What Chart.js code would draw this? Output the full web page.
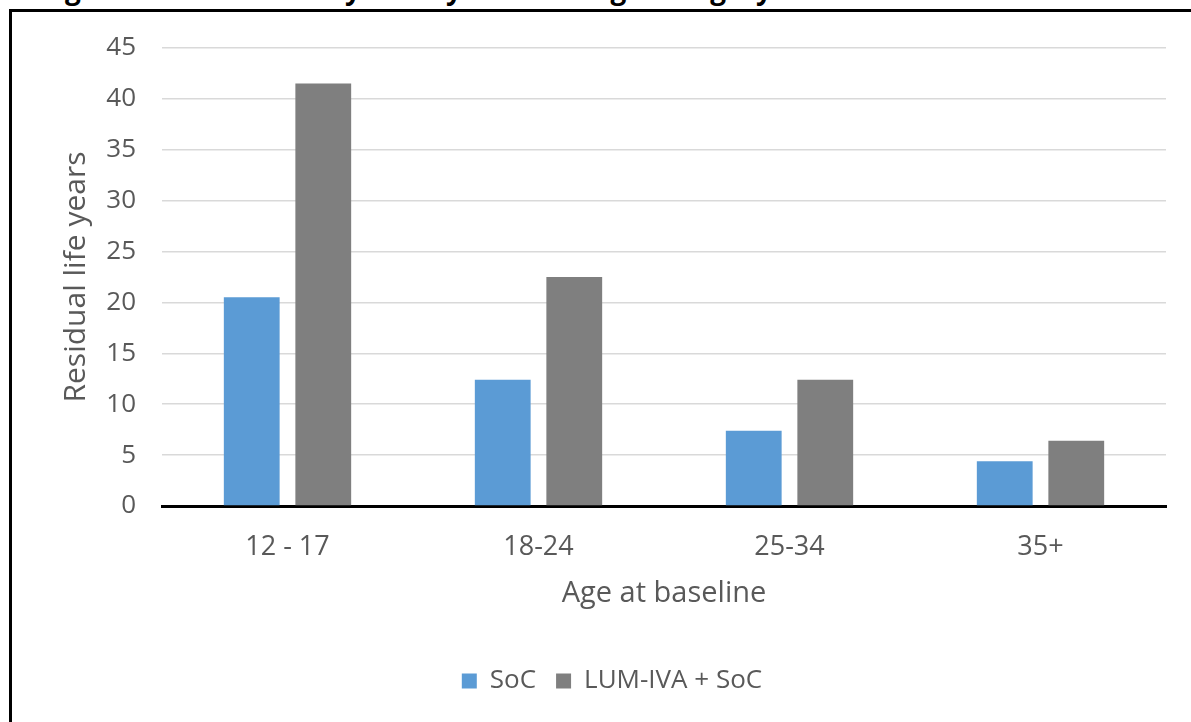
<!DOCTYPE html>
<html>
<head>
<meta charset="utf-8">
<script src="https://cdn.jsdelivr.net/npm/chart.js@4"></script>
<style>
    html, body { margin: 0; padding: 0; background: #fff; overflow: hidden; width: 1191px; height: 722px; }
    #title { position: absolute; left: 41px; top: -28px; font: bold 28px "Open Sans", sans-serif; line-height: 32px; white-space: nowrap; color: #000; }
    #frame { position: absolute; left: 9px; top: 9px; width: 1300px; height: 800px; border: 3px solid #000; }
    #wrap { position: absolute; left: 12px; top: 12px; width: 1202px; height: 710px; }
</style>
</head>
<body>
<div id="title">Figure 3: Residual life years by baseline age category</div>
<div id="frame"></div>
<div id="wrap"><canvas id="chart"></canvas></div>
<script>
// Residual life years by age at baseline
const categories = ['12 - 17', '18-24', '25-34', '35+'];
const socValues = [20.5, 12.4, 7.4, 4.4];
const lumIvaValues = [41.5, 22.5, 12.4, 6.4];
const yTicks = [0, 5, 10, 15, 20, 25, 30, 35, 40, 45];

const font = '"Open Sans", sans-serif';
const textGrey = '#595959';

const ctx = document.getElementById('chart');
new Chart(ctx, {
    type: 'bar',
    data: {
        labels: categories,
        datasets: [{
            label: 'SoC',
            data: socValues,
            backgroundColor: '#5B9BD5',
            categoryPercentage: 0.57,
            barPercentage: 0.78
        }, {
            label: 'LUM-IVA + SoC',
            data: lumIvaValues,
            backgroundColor: '#7F7F7F',
            categoryPercentage: 0.57,
            barPercentage: 0.78
        }]
    },
    options: {
        responsive: true,
        maintainAspectRatio: false,
        animation: false,
        layout: {
            padding: { top: 36, right: 48, bottom: 18, left: 46 }
        },
        plugins: {
            tooltip: { enabled: false },
            legend: {
                position: 'bottom',
                labels: {
                    color: textGrey,
                    font: { family: font, size: 26 },
                    boxWidth: 15,
                    boxHeight: 15,
                    padding: 20
                }
            }
        },
        scales: {
            x: {
                grid: { display: false, drawTicks: false },
                border: { display: true, color: '#000', width: 3 },
                ticks: {
                    color: textGrey,
                    font: { family: font, size: 27 },
                    padding: 25
                },
                title: {
                    display: true,
                    text: 'Age at baseline',
                    color: textGrey,
                    font: { family: font, size: 29 },
                    padding: { top: 0, bottom: 37 }
                },
                afterFit: function(scale) {
                    scale.height = 142;
                }
            },
            y: {
                min: 0,
                max: 45,
                afterBuildTicks: function(scale) {
                    scale.ticks = yTicks.map(v => ({ value: v }));
                },
                // invisible tick marks push the labels away from the plot
                grid: { color: '#d9d9d9', lineWidth: 1.5, drawTicks: true, tickLength: 26, tickColor: 'rgba(0,0,0,0)' },
                border: { display: false },
                ticks: {
                    color: textGrey,
                    font: { family: font, size: 26 },
                    padding: 0
                },
                title: {
                    display: true,
                    text: 'Residual life years',
                    color: textGrey,
                    font: { family: font, size: 30 },
                    padding: { top: 0, bottom: 0 }
                },
                afterFit: function(scale) {
                    scale.width = 104;
                }
            }
        }
    }
});
</script>
</body>
</html>
